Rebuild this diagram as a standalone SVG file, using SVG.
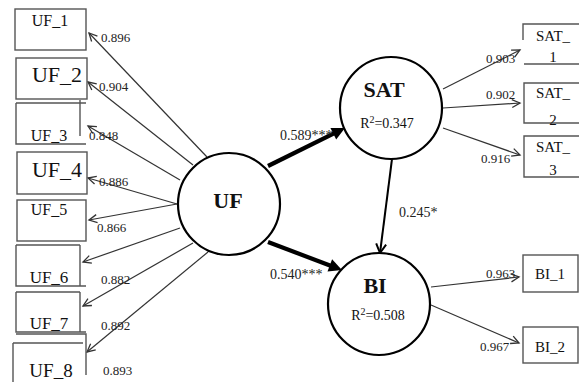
<svg xmlns="http://www.w3.org/2000/svg" width="579" height="382" viewBox="0 0 579 382">
<style>
text{font-family:"Liberation Serif","Times New Roman",serif;fill:#111}
.box{fill:none;stroke:#555;stroke-width:1.4}
.lat{fill:#fff;stroke:#000;stroke-width:2.2}
.ln{stroke:#333;stroke-width:1.2;fill:none}
.thick{stroke:#000;stroke-width:4.2;fill:none}
.mid{stroke:#000;stroke-width:2;fill:none}
.ld{font-size:13px;fill:#222}
.big{font-size:22px;font-weight:bold;text-anchor:middle}
.r2{font-size:14px;text-anchor:middle}
.pc{font-size:14px;fill:#222}
</style>
<defs>
<marker id="ah" viewBox="-10 -6 12 12" markerWidth="12" markerHeight="12" refX="0" refY="0" orient="auto" markerUnits="userSpaceOnUse">
<path d="M-8,-4 L0,0 L-8,4" fill="none" stroke="#333" stroke-width="1.3"/>
</marker>
<marker id="ahM" viewBox="-12 -7 14 14" markerWidth="14" markerHeight="14" refX="0" refY="0" orient="auto" markerUnits="userSpaceOnUse">
<path d="M-9,-5 L0,0 L-9,5" fill="none" stroke="#000" stroke-width="2"/>
</marker>
<marker id="ahT" viewBox="-4 -8 16 16" markerWidth="16" markerHeight="16" refX="0" refY="0" orient="auto" markerUnits="userSpaceOnUse">
<path d="M-3,-6.5 L10,0 L-3,6.5 Z" fill="#000"/>
</marker>
</defs>

<g id="connectors">
<line class="ln" x1="207" y1="157" x2="89" y2="33" marker-end="url(#ah)"/>
<line class="ln" x1="193" y1="165" x2="88" y2="82" marker-end="url(#ah)"/>
<line class="ln" x1="180" y1="180" x2="88" y2="126" marker-end="url(#ah)"/>
<line class="ln" x1="177" y1="204" x2="88" y2="178" marker-end="url(#ah)"/>
<line class="ln" x1="177" y1="204" x2="89" y2="220" marker-end="url(#ah)"/>
<line class="ln" x1="180" y1="228" x2="83" y2="262" marker-end="url(#ah)"/>
<line class="ln" x1="193" y1="243" x2="83" y2="306" marker-end="url(#ah)"/>
<line class="ln" x1="208" y1="252" x2="87" y2="352" marker-end="url(#ah)"/>
<line class="thick" x1="268" y1="166" x2="336" y2="132.4" marker-end="url(#ahT)"/>
<line class="thick" x1="268" y1="242" x2="332.6" y2="266.5" marker-end="url(#ahT)"/>
<line class="mid" x1="392" y1="159" x2="380" y2="253" marker-end="url(#ahM)"/>
<line class="ln" x1="443" y1="89" x2="520" y2="50" marker-end="url(#ah)"/>
<line class="ln" x1="443" y1="108" x2="520" y2="103" marker-end="url(#ah)"/>
<line class="ln" x1="443" y1="128" x2="520" y2="155" marker-end="url(#ah)"/>
<line class="ln" x1="431" y1="287" x2="519" y2="277" marker-end="url(#ah)"/>
<line class="ln" x1="431" y1="305" x2="519" y2="343" marker-end="url(#ah)"/>
<text class="ld" x="101" y="42">0.896</text>
<text class="ld" x="99" y="91">0.904</text>
<text class="ld" x="89" y="140">0.848</text>
<text class="ld" x="99" y="186">0.886</text>
<text class="ld" x="97" y="232">0.866</text>
<text class="ld" x="101" y="284">0.882</text>
<text class="ld" x="101" y="330">0.892</text>
<text class="ld" x="103" y="375" font-size="12">0.893</text>
<text class="pc" x="280" y="140">0.589***</text>
<text class="pc" x="270" y="279">0.540***</text>
<text class="pc" x="399" y="217">0.245*</text>
<text class="ld" x="486" y="63">0.903</text>
<text class="ld" x="486" y="99">0.902</text>
<text class="ld" x="481" y="163">0.916</text>
<text class="ld" x="486" y="278">0.963</text>
<text class="ld" x="480" y="351">0.967</text>
</g>

<g id="UF">
<circle class="lat" cx="229" cy="204" r="51"/>
<text class="big" x="228" y="208">UF</text>
</g>
<g id="SAT">
<circle class="lat" cx="391" cy="108" r="51"/>
<text class="big" x="384" y="97">SAT</text>
<text class="r2" x="387" y="128">R<tspan dy="-5" font-size="10">2</tspan><tspan dy="5">=0.347</tspan></text>
</g>
<g id="BI">
<circle class="lat" cx="379" cy="304" r="51"/>
<text class="big" x="375" y="293">BI</text>
<text class="r2" x="378" y="320">R<tspan dy="-5" font-size="10">2</tspan><tspan dy="5">=0.508</tspan></text>
</g>

<g id="UF_1">
<rect class="box" x="15" y="9" width="71" height="41"/>
<text x="50" y="26" font-size="16" text-anchor="middle">UF_1</text>
</g>
<g id="UF_2">
<rect class="box" x="16" y="58" width="71" height="41"/>
<text x="57" y="82" font-size="22" text-anchor="middle">UF_2</text>
</g>
<g id="UF_3">
<path class="box" d="M16,103 H86 M16,103 V144 H86 M80,100 V136"/>
<text x="49" y="141" font-size="16" text-anchor="middle">UF_3</text>
</g>
<g id="UF_4">
<rect class="box" x="17" y="152" width="70" height="42"/>
<text x="57" y="177" font-size="22" text-anchor="middle">UF_4</text>
</g>
<g id="UF_5">
<rect class="box" x="17" y="200" width="69" height="41"/>
<text x="49" y="215" font-size="16" text-anchor="middle">UF_5</text>
</g>
<g id="UF_6">
<path class="box" d="M16,245 H80 M16,245 V286 H86 M80,245 V286"/>
<text x="49" y="283" font-size="17" text-anchor="middle">UF_6</text>
</g>
<g id="UF_7">
<path class="box" d="M16,292 H80 M16,292 V332 H86 M80,292 V332"/>
<text x="49" y="329" font-size="17" text-anchor="middle">UF_7</text>
</g>
<g id="UF_8">
<path class="box" d="M16,334 H86 V375 M13,343 H83 M13,343 V382"/>
<text x="51" y="377" font-size="19" text-anchor="middle">UF_8</text>
</g>

<g id="SAT_1">
<path class="box" d="M523,40 V24 H579 M524,64 H579"/>
<text x="553" y="41" font-size="15" text-anchor="middle">SAT_</text>
<text x="553" y="62" font-size="15" text-anchor="middle">1</text>
</g>
<g id="SAT_2">
<path class="box" d="M579,83 H524 V123 H579"/>
<text x="553" y="98" font-size="15" text-anchor="middle">SAT_</text>
<text x="553" y="125" font-size="15" text-anchor="middle">2</text>
</g>
<g id="SAT_3">
<path class="box" d="M579,136 H524 V177 H579"/>
<text x="553" y="152" font-size="15" text-anchor="middle">SAT_</text>
<text x="553" y="175" font-size="15" text-anchor="middle">3</text>
</g>
<g id="BI_1">
<rect class="box" x="523" y="255" width="55" height="37"/>
<text x="550" y="279" font-size="15" text-anchor="middle">BI_1</text>
</g>
<g id="BI_2">
<rect class="box" x="523" y="327" width="55" height="36"/>
<text x="550" y="352" font-size="15" text-anchor="middle">BI_2</text>
</g>
</svg>
